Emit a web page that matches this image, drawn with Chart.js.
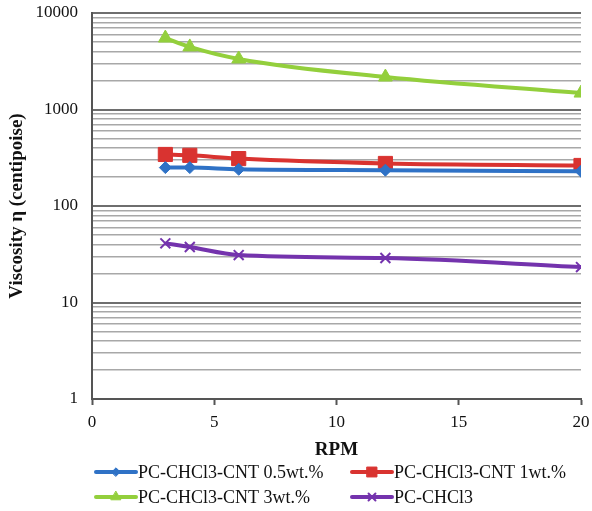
<!DOCTYPE html>
<html>
<head>
<meta charset="utf-8">
<script src="https://cdn.jsdelivr.net/npm/chart.js@4/dist/chart.umd.min.js"></script>
<style>
  html, body { margin: 0; padding: 0; background: #fff; }
  #wrap { width: 592px; height: 511px; position: relative; }
</style>
</head>
<body>
<div id="wrap"><canvas id="viscChart"></canvas></div>
<script>
// RPM values
const rpm = [3, 4, 6, 12, 20];

// Viscosity (centipoise)
const cnt05 = [250, 250, 240, 235, 229];
const cnt1 = [342, 335, 310, 276, 263];
const cnt3 = [5500, 4450, 3340, 2170, 1480];
const pure = [41, 37.6, 31, 28.9, 23.3];

const seriesNames = ['PC-CHCl3-CNT 0.5wt.%', 'PC-CHCl3-CNT 1wt.%', 'PC-CHCl3-CNT 3wt.%', 'PC-CHCl3'];
const decadeTicks = [1, 10, 100, 1000, 10000];
const xTicks = [0, 5, 10, 15, 20];

const FONT = "'Liberation Serif', 'Times New Roman', serif";

function pts(values) {
    return rpm.map((x, i) => ({ x: x, y: values[i] }));
}

const styles = [
    { color: '#2f72c6', pointStyle: 'rectRot', radius: 6, borderWidth: 1 },
    { color: '#d93330', pointStyle: 'rect', radius: 10, borderWidth: 1 },
    { color: '#93cf3c', pointStyle: 'triangle', radius: 8, borderWidth: 1 },
    { color: '#7433ad', pointStyle: 'crossRot', radius: 7, borderWidth: 2 }
];

function makeDataset(i, values) {
    const s = styles[i];
    return {
        label: seriesNames[i],
        data: pts(values),
        borderColor: s.color,
        backgroundColor: s.color,
        borderWidth: 4,
        pointStyle: s.pointStyle,
        pointRadius: s.radius,
        pointBorderWidth: s.borderWidth,
        pointBackgroundColor: s.color,
        pointBorderColor: s.color,
        tension: 0.3,
        cubicInterpolationMode: 'monotone'
    };
}

// legend drawn in two columns under the axis title
const legendPlugin = {
    id: 'twoColLegend',
    afterDraw(chart) {
        const ctx = chart.ctx;
        const cols = [96, 352];
        const rows = [472, 497];
        ctx.save();
        ctx.font = '18px ' + FONT;
        ctx.textBaseline = 'middle';
        ctx.textAlign = 'left';
        chart.data.datasets.forEach((ds, i) => {
            const x = cols[i % 2];
            const y = rows[Math.floor(i / 2)];
            const s = styles[i];
            ctx.strokeStyle = s.color;
            ctx.lineWidth = 4;
            ctx.lineCap = 'round';
            ctx.beginPath();
            ctx.moveTo(x, y);
            ctx.lineTo(x + 40, y);
            ctx.stroke();
            ctx.fillStyle = s.color;
            ctx.lineWidth = s.borderWidth;
            Chart.helpers.drawPoint(ctx, {
                pointStyle: s.pointStyle,
                radius: s.radius * 0.7,
                borderWidth: s.borderWidth,
                rotation: 0
            }, x + 20, y);
            ctx.fillStyle = '#111';
            ctx.fillText(ds.label, x + 42, y + 1);
        });
        ctx.restore();
    }
};

new Chart(document.getElementById('viscChart'), {
    type: 'line',
    data: {
        datasets: [
            makeDataset(0, cnt05),
            makeDataset(1, cnt1),
            makeDataset(2, cnt3),
            makeDataset(3, pure)
        ]
    },
    options: {
        responsive: true,
        maintainAspectRatio: false,
        animation: false,
        layout: { padding: { top: 13, right: 9, left: 0, bottom: 50 } },
        plugins: {
            legend: { display: false },
            tooltip: { enabled: false }
        },
        scales: {
            x: {
                type: 'linear',
                min: 0,
                max: 20,
                afterBuildTicks: scale => { scale.ticks = xTicks.map(v => ({ value: v })); },
                afterFit: scale => {
                    scale.height = 62;
                    scale.paddingLeft = 0;
                    scale.paddingRight = 0;
                },
                grid: {
                    drawOnChartArea: false,
                    tickLength: 6,
                    tickColor: '#555',
                    tickWidth: 2
                },
                border: { color: '#555', width: 2 },
                ticks: {
                    color: '#111',
                    font: { family: FONT, size: 17 },
                    padding: 7
                },
                title: {
                    display: true,
                    text: 'RPM',
                    color: '#111',
                    font: { family: FONT, size: 19, weight: 'bold' },
                    padding: { top: 0, bottom: 0 }
                }
            },
            y: {
                type: 'logarithmic',
                min: 1,
                max: 10000,
                afterBuildTicks: scale => {
                    const ticks = [];
                    decadeTicks.forEach((d, i) => {
                        ticks.push({ value: d, major: true });
                        if (i < decadeTicks.length - 1) {
                            for (let m = 2; m <= 9; m++) ticks.push({ value: d * m });
                        }
                    });
                    scale.ticks = ticks;
                },
                afterFit: scale => {
                    scale.width = 92;
                    scale.paddingTop = 0;
                    scale.paddingBottom = 0;
                },
                grid: {
                    color: c => (c.tick && decadeTicks.includes(c.tick.value)) ? '#6e6e6e' : '#a8a8a8',
                    lineWidth: c => (c.tick && decadeTicks.includes(c.tick.value)) ? 2 : 1.5,
                    tickLength: c => (c.tick && decadeTicks.includes(c.tick.value)) ? 6 : 0,
                    tickColor: '#555',
                    drawTicks: true
                },
                border: { color: '#555', width: 2 },
                ticks: {
                    autoSkip: false,
                    color: '#111',
                    font: { family: FONT, size: 17 },
                    padding: 14,
                    callback: v => decadeTicks.includes(v) ? String(v) : ''
                },
                title: {
                    display: true,
                    text: 'Viscosity η (centipoise)',
                    color: '#111',
                    font: { family: FONT, size: 19, weight: 'bold' },
                    padding: { top: 6, bottom: 0 }
                }
            }
        }
    },
    plugins: [legendPlugin]
});
</script>
</body>
</html>
